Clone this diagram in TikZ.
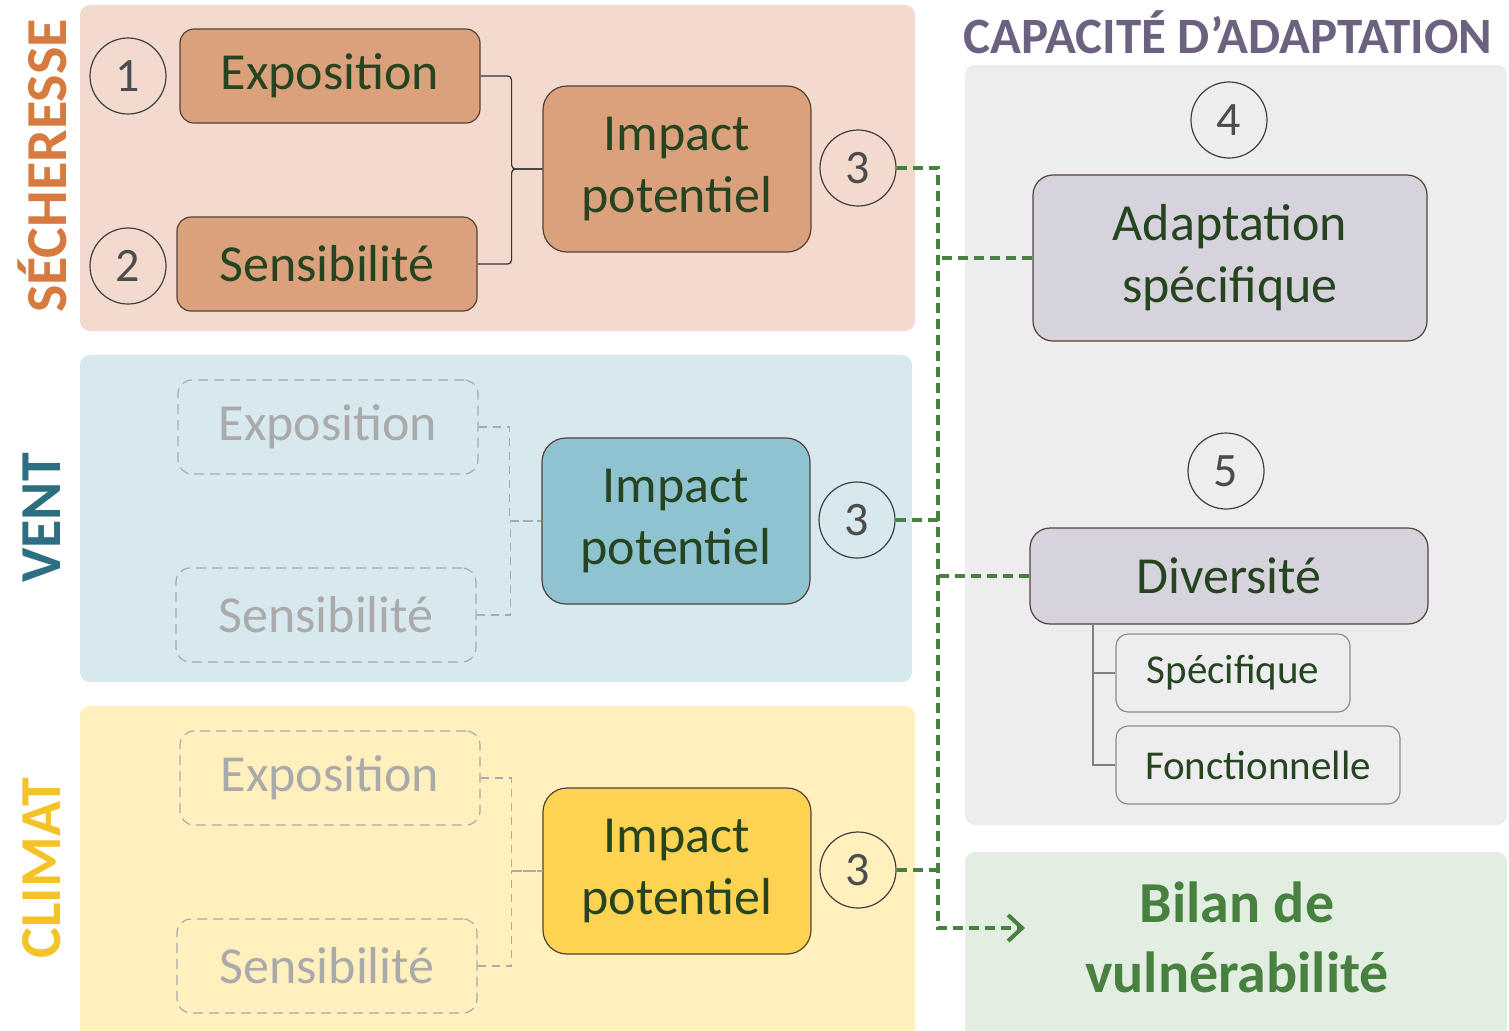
\documentclass[tikz,border=0pt]{standalone}
\usepackage{fontspec}
\setmainfont{Carlito}
\usepackage{xcolor}
\usepackage{tikz}
\usetikzlibrary{arrows.meta}
\usetikzlibrary{positioning}

\definecolor{txtgreen}{RGB}{38,68,32}
\definecolor{linkgreen}{RGB}{72,128,64}
\definecolor{boxline}{RGB}{85,65,55}
\definecolor{ghostgray}{RGB}{170,170,170}
\definecolor{secpanel}{RGB}{242,218,206}
\definecolor{secbox}{RGB}{219,161,124}
\definecolor{secword}{RGB}{214,122,64}
\definecolor{ventpanel}{RGB}{215,232,238}
\definecolor{ventbox}{RGB}{143,195,209}
\definecolor{ventword}{RGB}{44,110,130}
\definecolor{climpanel}{RGB}{255,240,190}
\definecolor{climbox}{RGB}{255,211,82}
\definecolor{climword}{RGB}{245,195,40}
\definecolor{cappanel}{RGB}{237,237,240}
\definecolor{capbox}{RGB}{214,211,221}
\definecolor{capword}{RGB}{108,98,128}
\definecolor{bilpanel}{RGB}{226,238,226}

\tikzstyle{num} = [circle,draw=black!75,line width=0.6pt,minimum size=38pt,inner sep=0pt,
font=\fontsize{24}{24}\selectfont,text=black!70]
\tikzstyle{drv} = [rounded corners=7pt,draw=boxline,line width=0.6pt,minimum width=150pt,
minimum height=47pt,inner sep=0pt,font=\fontsize{26}{31}\selectfont,text=txtgreen]
\tikzstyle{ghost} = [drv,draw=ghostgray,dash pattern=on 5pt off 3pt,text=ghostgray]
\tikzstyle{impact} = [rounded corners=12pt,draw=boxline,line width=0.6pt,minimum width=134pt,
minimum height=83pt,inner sep=0pt,align=center,font=\fontsize{26}{31}\selectfont,text=txtgreen]
\tikzstyle{capa} = [impact,rounded corners=10pt,fill=capbox,minimum width=197pt]
\tikzstyle{sub} = [rounded corners=6pt,draw=black!45,line width=0.6pt,fill=cappanel,
minimum height=39pt,inner sep=0pt,font=\fontsize{20.5}{24}\selectfont,text=txtgreen]
\tikzstyle{brk} = [draw,black!80,line width=0.6pt,rounded corners=2pt]
\tikzstyle{brkg} = [draw,ghostgray,line width=0.6pt,dash pattern=on 4pt off 3pt]
\tikzstyle{grn} = [draw,linkgreen,line width=2pt,dash pattern=on 5pt off 3pt]
\tikzstyle{tree} = [draw,black!50,line width=0.6pt]
\tikzstyle{side} = [rotate=90,font=\fontsize{29}{29}\selectfont\bfseries]
\tikzstyle{panel} = [rounded corners=5pt]

\begin{document}
\begin{tikzpicture}[x=0.5pt,y=-0.5pt]
	\clip (0,0) rectangle (1509,1030);
	
	\fill[panel,secpanel] (80,5) rectangle (915,331);
	\fill[panel,ventpanel] (80,355) rectangle (912,682);
	\fill[panel,climpanel] (80,706) rectangle (915,1050);
	\fill[panel,cappanel] (965,65) rectangle (1507,825);
	\fill[panel,bilpanel] (965,852) rectangle (1507,1050);
	
	\node[side,text=secword] (tsec) at (42,166) {SÉCHERESSE};
	\node[side,text=ventword] (tven) at (42,518) {VENT};
	\node[side,text=climword] (tcli) at (42,868) {CLIMAT};
	\node[text=capword,font=\fontsize{25.5}{25.5}\selectfont\bfseries] (tcap) at (1228,32) {CAPACITÉ D’ADAPTATION};
	
	\node[num] (c1) at (128,76) {1};
	\node[num] (c2) at (128,266) {2};
	\node[drv,fill=secbox] (ex1) at (330,76) {Exposition};
	\node[drv,fill=secbox] (se1) at (327,264) {Sensibilité};
	\node[impact,fill=secbox] (ip1) at (677,169) {Impact\\potentiel};
	\node[num] (c31) at (858,168) {3};
	
	\node[ghost] (ex2) at (328,427) {Exposition};
	\node[ghost] (se2) at (326,615) {Sensibilité};
	\node[impact,fill=ventbox] (ip2) at (676,521) {Impact\\potentiel};
	\node[num] (c32) at (857,520) {3};
	
	\node[ghost] (ex3) at (330,778) {Exposition};
	\node[ghost] (se3) at (327,966) {Sensibilité};
	\node[impact,fill=climbox] (ip3) at (677,871) {Impact\\potentiel};
	\node[num] (c33) at (858,870) {3};
	
	\node[num] (c4) at (1229,120) {4};
	\node[capa] (ad) at (1230,258) {Adaptation\\spécifique};
	\node[num] (c5) at (1226,471) {5};
	\node[capa,minimum width=199pt,minimum height=48pt] (dv) at (1229,576) {Diversité};
	\node[sub,minimum width=117pt] (sp) at (1233,673) {Spécifique};
	\node[sub,minimum width=142pt] (fo) at (1258,765) {Fonctionnelle};
	
	\node[text=linkgreen,align=center,font=\fontsize{29}{35}\selectfont\bfseries] (bil) at (1237,937) {Bilan de\\vulnérabilité};
	
	\path[brk] (ex1.east) -- ++(31,0) |- (ip1.west);
	\path[brk] (se1.east) -- ++(34,0) |- (ip1.west);
	\path[brkg] (ex2.east) -- ++(31,0) |- (ip2.west);
	\path[brkg] (se2.east) -- ++(34,0) |- (ip2.west);
	\path[brkg] (ex3.east) -- ++(31,0) |- (ip3.west);
	\path[brkg] (se3.east) -- ++(34,0) |- (ip3.west);
	
	\coordinate (tr) at (1093,624);
	\path[tree] (tr) |- (sp.west);
	\path[tree] (tr) |- (fo.west);
	
	\coordinate (bb) at (938,928);
	\coordinate (tip) at (1025,928);
	\path[grn,-{Straight Barb[length=7pt,width=13pt]}] (c31.east) -| (bb) -- (tip);
	\path[grn] (c32.east) -- (c32.east -| bb);
	\path[grn] (c33.east) -- (c33.east -| bb);
	\path[grn] (ad.west) -- (ad.west -| bb);
	\path[grn] (dv.west) -- (dv.west -| bb);
	
\end{tikzpicture}
\end{document}
